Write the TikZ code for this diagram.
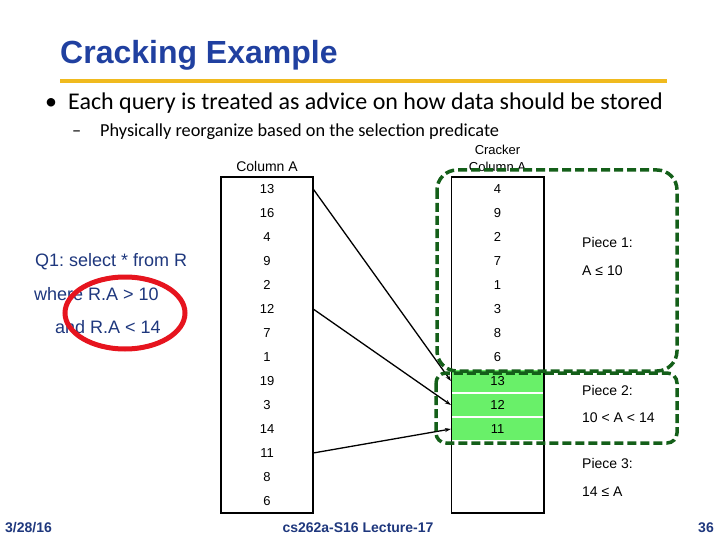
\documentclass[tikz,border=0pt]{standalone}
\usepackage{fontspec}
\setmainfont{Liberation Sans}
\newfontfamily\bodyfont{Carlito}
\usetikzlibrary{positioning,arrows.meta}
\definecolor{titleblue}{RGB}{32,64,160}
\definecolor{footblue}{RGB}{30,55,125}
\definecolor{rulegold}{RGB}{240,186,30}
\definecolor{piecegreen}{RGB}{20,95,25}
\definecolor{cellgreen}{RGB}{105,240,105}
\definecolor{circlered}{RGB}{230,20,30}
\frenchspacing

\begin{document}
\begin{tikzpicture}[
    x=1pt, y=-1pt,
    cell/.style={
        rectangle,
        minimum width=92pt,
        minimum height=24pt,
        inner sep=0pt,
        font=\fontsize{13}{13}\selectfont
    },
    hitcell/.style={cell, fill=cellgreen, draw=white, line width=1.2pt},
    column/.style={draw, line width=1.6pt},
    arrow/.style={-{Stealth[length=6pt,width=4pt]}, line width=1.3pt},
    piece/.style={draw=piecegreen, line width=3.5pt, dash pattern=on 9pt off 4pt},
    label/.style={font=\fontsize{14}{16}\selectfont, inner sep=0pt, anchor=west},
    query/.style={text=footblue, font=\fontsize{18}{18}\selectfont, inner sep=0pt, anchor=west},
    footer/.style={text=footblue, font=\bfseries\fontsize{14}{14}\selectfont, inner sep=0pt}
]
\useasboundingbox (0,0) rectangle (720,540);

% heading
\node[anchor=west, inner sep=0pt, text=titleblue, font=\bfseries\fontsize{32}{32}\selectfont] (title) at (60,55) {Cracking Example};
\draw[rulegold, line width=4pt] (60,81) -- (667,81);
\node[anchor=west, inner sep=0pt, font=\bodyfont\fontsize{24}{24}\selectfont] (bullet) at (45,103) {\makebox[23pt][l]{•}Each query is treated as advice on how data should be stored};
\node[anchor=west, inner sep=0pt, font=\bodyfont\fontsize{18.3}{18}\selectfont] (subbullet) at (72,132) {\makebox[28pt][l]{–}Physically reorganize based on the selection predicate};

% query
\node[query] (q1) at (35,262) {Q1: select * from R};
\node[query] (q2) at (34,294) {where R.A > 10};
\node[query] (q3) at (55,327) {and R.A < 14};
\draw[circlered, line width=5pt] (125,313) ellipse [x radius=60, y radius=36];

% columns
\foreach \v [count=\i] in {13,16,4,9,2,12,7,1,19,3,14,11,8,6}
    \node[cell] (a\i) at (267,165+24*\i) {\v};
\foreach \v [count=\i] in {4,9,2,7,1,3,8,6}
    \node[cell] (c\i) at (497.5,165+24*\i) {\v};
\foreach \v [count=\i from 9] in {13,12,11}
    \node[hitcell] (c\i) at (497.5,165+24*\i) {\v};
\foreach \i in {12,13,14}
    \node[cell] (c\i) at (497.5,165+24*\i) {};

\draw[column] (a1.north west) rectangle (a14.south east);
\draw[column] (c1.north west) rectangle (c14.south east);

\node[label, anchor=south] (colA) at ([yshift=5pt]a1.north) {Column A};
\node[label, anchor=south, align=center, font=\fontsize{13}{17}\selectfont] (colC) at ([yshift=5pt]c1.north) {Cracker\\Column A};

\draw[arrow] (a1.east) -- (c9.west);
\draw[arrow] (a6.east) -- (c10.west);
\draw[arrow] (a12.east) -- (c11.west);

% pieces
\draw[piece, rounded corners=20pt] (437,170) rectangle (677,371);
\draw[piece, rounded corners=10pt] (436,373) rectangle (677,443);

\node[label] (p1) at (582,242) {Piece 1:};
\node[label] (r1) at (582,271) {A ≤ 10};
\node[label] (p2) at (582,390) {Piece 2:};
\node[label] (r2) at (582,418) {10 < A < 14};
\node[label] (p3) at (582,463) {Piece 3:};
\node[label] (r3) at (582,492) {14 ≤ A};

% footer
\node[footer, anchor=west] (date) at (5,528) {3/28/16};
\node[footer] (course) at (358,528) {cs262a-S16 Lecture-17};
\node[footer, anchor=east] (page) at (714,528) {36};
\end{tikzpicture}
\end{document}
